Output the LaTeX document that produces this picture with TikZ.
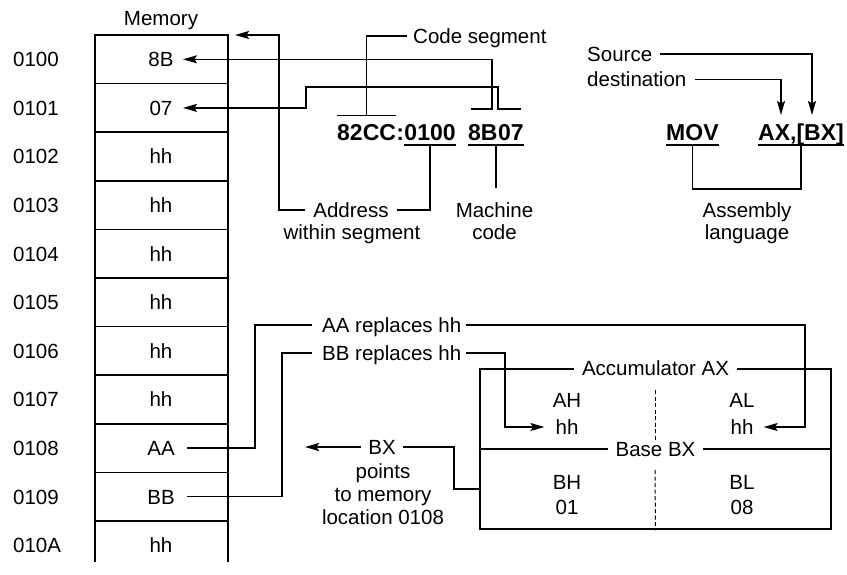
\documentclass[tikz,border=0pt]{standalone}
\usepackage{fontspec}
\setmainfont{Liberation Sans}
\usetikzlibrary{arrows.meta,calc}
\begin{document}
\begin{tikzpicture}[x=1pt,y=-1pt,
  txt/.style={font=\fontsize{20.5}{24}\selectfont, inner sep=2pt, text height=14.7pt, text depth=0pt},
  bold/.style={font=\fontsize{23}{26}\selectfont\bfseries, inner sep=0pt, text height=16.5pt, text depth=0pt},
  conn/.style={line width=1.5pt},
  arr/.style={conn,-{Stealth[length=14pt,width=8pt,inset=2.5pt]}},
  thickline/.style={line width=2.6pt},
  rowline/.style={line width=1.5pt},
  regbox/.style={draw, line width=2.6pt, minimum width=351pt, minimum height=160pt, inner sep=0pt},
  sep/.style={dash pattern=on 4pt off 2.5pt, line width=1pt},
  lbl/.style={txt, fill=white, inner xsep=8pt}]
\useasboundingbox (0,0) rectangle (847,574);

% ---------------- memory ----------------
\coordinate (memTL) at (95,35);
\coordinate (memTR) at (228,35);
\draw[thickline] (95,562) -- (memTL) -- (memTR) -- (228,562);
\foreach \k in {1,...,10} \draw[rowline] (95,{35+48.6*\k}) -- (228,{35+48.6*\k});
\node[txt] (memlbl) at (161,18) {Memory};
\foreach \a/\c [count=\i from 0] in {0100/8B,0101/07,0102/hh,0103/hh,0104/hh,0105/hh,0106/hh,0107/hh,0108/AA,0109/BB,010A/hh}{
  \node[txt,anchor=west] (adr\i) at (11,{59.3+48.6*\i}) {\a};
  \node[txt] (m\i) at (161,{59.3+48.6*\i}) {\c};
}
\coordinate (tipx) at (183,0);

% ---------------- machine code ----------------
\node[bold,anchor=base west] (cs) at (337,140) {82CC};
\node[bold,anchor=base west] (colon) at (cs.base east) {:};
\node[bold,anchor=base west] (off) at (colon.base east) {0100};
\node[bold,anchor=base west] (mc8B) at (468,140) {8B};
\node[bold,anchor=base west] (mc07) at (mc8B.base east) {07};

\node[txt,anchor=west] (codeseg) at (411,36) {Code segment};
\node[txt] (addrlbl) at (351,210) {Address};
\node[txt] (within) at (352,232) {within segment};
\node[txt] (mach) at (494.5,210) {Machine};
\node[txt] (code) at (494.5,232) {code};

% overline 82CC and code segment
\draw[conn] ([yshift=8pt]cs.north west) -- ([yshift=8pt]cs.north east);
\draw[conn] ([yshift=8pt]cs.north) |- ([xshift=-4pt]codeseg.west);

% underline 0100 and address
\coordinate (uloffL) at ([yshift=-5pt]off.south west);
\coordinate (uloffR) at ([yshift=-5pt]off.south east);
\coordinate (uloffM) at ($(uloffL)!0.5!(uloffR)$);
\draw[conn] (uloffL) -- (uloffR);
\draw[conn] ([xshift=6pt]addrlbl.east) -| (uloffM);
\coordinate (adbend) at (279,35);
\draw[arr] ([xshift=-6pt]addrlbl.west) -| (adbend) -- ([xshift=7pt]memTR);

% underline 8B07 and machine code
\coordinate (ulmcL) at ([yshift=-5pt]mc8B.south west);
\coordinate (ulmcR) at ([yshift=-5pt]mc07.south east);
\coordinate (ulmcM) at ($(ulmcL)!0.5!(ulmcR)$);
\draw[conn] (ulmcL) -- (ulmcR);
\draw[conn, shorten >=12pt] (ulmcM) -- (ulmcM |- mach.north);

% brackets over 8B and 07
\coordinate (br8Ba) at (471,109);
\coordinate (br8Bb) at (492,109);
\coordinate (br07a) at (498,109);
\coordinate (br07b) at (521,109);
\coordinate (jog07) at (306,87);
\draw[arr] (br8Ba) -- (br8Bb) |- (m0.east -| tipx);
\draw[arr] (br07b) -- (br07a) |- (jog07) |- (m1.east -| tipx);

% ---------------- assembly ----------------
\node[bold,anchor=base west] (mov) at (666,140) {MOV};
\node[bold,anchor=base west] (axbx) at (758,140) {AX,[BX]};
\node[txt,anchor=west] (src) at (585,54) {Source};
\node[txt,anchor=west] (dest) at (585,79.5) {destination};
\node[txt] (asm) at (747,210) {Assembly};
\node[txt] (lang) at (747,232) {language};
\coordinate (srctip) at (812,115);
\coordinate (desttip) at (781,115);
\draw[arr] ([xshift=6pt]src.east) -| (srctip);
\draw[arr] ([xshift=6pt]dest.east) -| (desttip);
\coordinate (movL) at ([yshift=-5pt]mov.south west);
\coordinate (movR) at ([yshift=-5pt]mov.south east);
\coordinate (movM) at ($(movL)!0.5!(movR)$);
\coordinate (axL) at ([yshift=-5pt]axbx.south west);
\coordinate (axR) at ([yshift=-5pt]axbx.south east);
\coordinate (axM) at ($(axL)!0.5!(axR)$);
\coordinate (asmY) at (0,189);
\draw[conn] (movL) -- (movR);
\draw[conn] (axL) -- (axR);
\draw[conn] (movM) |- (asmY -| axM) -- (axM);

% ---------------- registers ----------------
\node[regbox] (reg) at (655.5,449) {};
\draw[thickline] (reg.west) -- (reg.east);
\draw[sep] (655,390) -- (655,440);
\draw[sep] (655,470) -- (reg.south);
\node[lbl] (acc) at (reg.north) {Accumulator AX};
\node[lbl] (base) at (reg.center) {Base BX};
\node[txt] (ah) at (567,400) {AH};
\node[txt] (ahhh) at (567,427) {hh};
\node[txt] (al) at (742,400) {AL};
\node[txt] (alhh) at (742,427) {hh};
\node[txt] (bh) at (567,482) {BH};
\node[txt] (bhv) at (567,507) {01};
\node[txt] (bl) at (742,482) {BL};
\node[txt] (blv) at (742,507) {08};

% ---------------- replacements ----------------
\node[txt,anchor=west] (aar) at (320,325) {AA replaces hh};
\node[txt,anchor=west] (bbr) at (320,353) {BB replaces hh};
\coordinate (aabend) at (255,325);
\coordinate (bbbend) at (282,353);
\coordinate (albend) at (805,427);
\coordinate (ahbend) at (505,427);
\draw[conn] ([xshift=10pt]m8.east) -| (aabend) -- ([xshift=-8pt]aar.west);
\draw[conn] ([xshift=10pt]m9.east) -| (bbbend) -- ([xshift=-8pt]bbr.west);
\draw[arr] ([xshift=3pt]aar.east) -| (albend) -- ([xshift=8pt]alhh.east);
\draw[arr] ([xshift=3pt]bbr.east) -| (ahbend) -- ([xshift=-9pt]ahhh.west);

% ---------------- BX pointer ----------------
\node[txt] (bx) at (382,447) {BX};
\node[txt] (pts) at (383,471) {points};
\node[txt] (tomem) at (383,494) {to memory};
\node[txt] (loc) at (383,517) {location 0108};
\coordinate (bxbend) at (454,447);
\coordinate (bxtip) at (305,447);
\draw[conn] ([yshift=-40pt]reg.west) -| (bxbend) -- ([xshift=5pt]bx.east);
\draw[arr] ([xshift=-5pt]bx.west) -- (bxtip);
\end{tikzpicture}
\end{document}
